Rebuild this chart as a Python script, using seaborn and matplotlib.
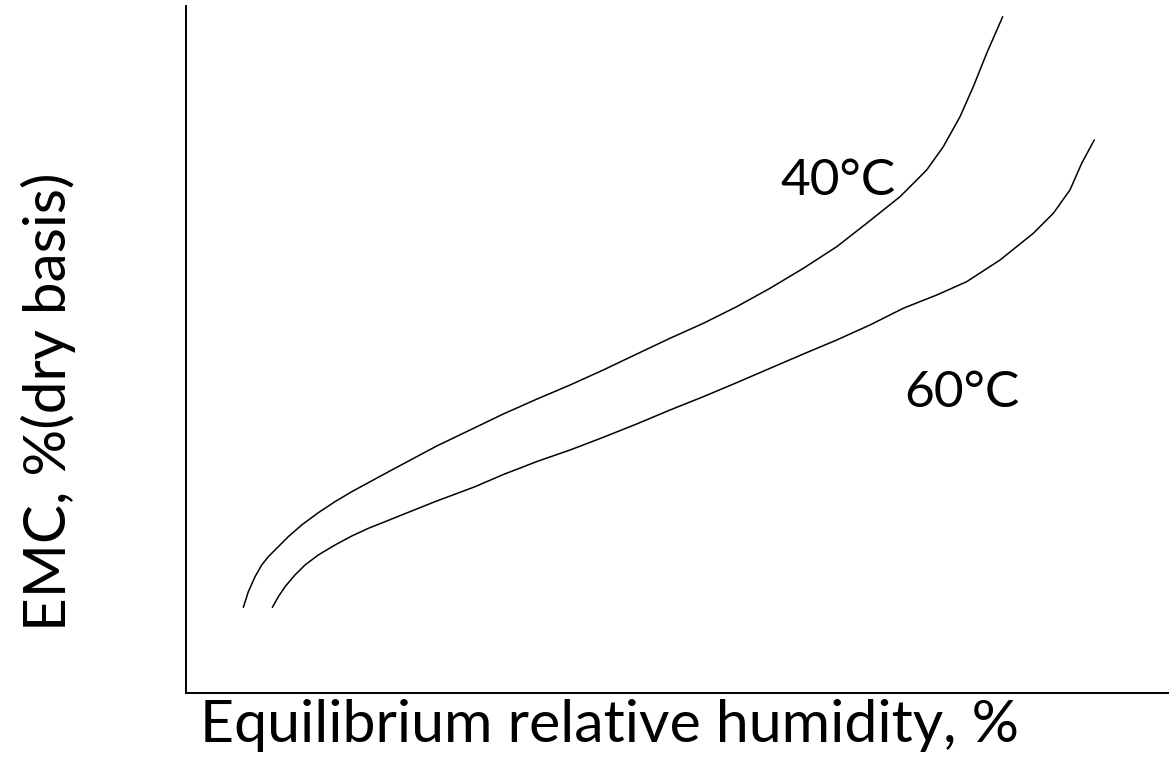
import matplotlib
matplotlib.use("Agg")
import matplotlib.pyplot as plt
import seaborn as sns
import pandas as pd

# Schematic sorption isotherms (arbitrary units)
rh_40 = [5.88, 6.39, 7.07, 7.75, 8.42, 9.44, 10.45, 11.81, 13.50, 15.20, 16.90,
         18.59, 20.97, 25.54, 28.93, 32.31, 35.74, 39.10, 42.48, 45.88, 49.26,
         52.65, 56.04, 59.43, 62.82, 66.21, 69.26, 72.65, 75.36, 77.05, 78.75,
         80.10, 81.46, 83.09]
emc_40 = [12.47, 14.75, 16.93, 18.63, 19.84, 21.30, 22.75, 24.45, 26.24, 27.85,
          29.30, 30.61, 32.46, 35.95, 38.28, 40.61, 42.79, 44.83, 47.02, 49.34,
          51.63, 53.81, 56.23, 58.91, 61.82, 64.96, 68.37, 72.24, 76.13, 79.52,
          83.89, 88.25, 93.11, 98.44]
rh_60 = [8.83, 9.44, 10.12, 11.13, 12.15, 13.50, 15.20, 16.90, 18.59, 20.28,
         21.98, 25.37, 29.44, 32.31, 35.74, 39.10, 42.48, 45.88, 49.26, 52.65,
         56.04, 59.43, 62.82, 66.21, 69.60, 72.98, 76.38, 79.43, 82.82, 86.20,
         88.24, 89.93, 91.12, 92.40]
emc_60 = [12.47, 14.02, 15.47, 17.18, 18.63, 20.09, 21.54, 22.85, 23.97, 24.93,
          25.91, 27.85, 30.03, 31.80, 33.70, 35.37, 37.22, 39.16, 41.19, 43.13,
          45.17, 47.26, 49.34, 51.38, 53.57, 56.00, 57.93, 59.87, 63.03, 66.91,
          69.83, 73.22, 77.10, 80.49]
series_labels = ["40°C", "60°C"]
x_label = "Equilibrium relative humidity, %"
y_label = "EMC, %(dry basis)"

df = pd.DataFrame({
    "rh": rh_40 + rh_60,
    "emc": emc_40 + emc_60,
    "series": [series_labels[0]] * len(rh_40) + [series_labels[1]] * len(rh_60),
})

sns.set_theme(style="white")
plt.rcParams["font.family"] = ["Lato", "DejaVu Sans"]
plt.rcParams["text.color"] = "black"

fig = plt.figure(figsize=(11.69, 7.59), dpi=100)
ax = fig.add_axes([185.5 / 1169, 1 - 693 / 759, 1 - 185.5 / 1169, (693 - 6) / 759])

sns.lineplot(data=df, x="rh", y="emc", hue="series", palette=["black", "black"],
             sort=False, estimator=None, legend=False, linewidth=1.1, ax=ax)
for ln in ax.lines:
    ln.set_solid_joinstyle("round")

ax.set_xlim(0, 100)
ax.set_ylim(0, 100)
ax.set_xticks([])
ax.set_yticks([])
ax.set_xlabel("")
ax.set_ylabel("")
for s in ["top", "right"]:
    ax.spines[s].set_visible(False)
for s in ["left", "bottom"]:
    ax.spines[s].set_color("black")
    ax.spines[s].set_linewidth(1.4)

# series labels
fig.text(780 / 1169, 1 - 195 / 759, series_labels[0], fontsize=37, ha="left",
         va="baseline", color="black")
fig.text(904 / 1169, 1 - 407 / 759, series_labels[1], fontsize=37, ha="left",
         va="baseline", color="black")

# axis labels
fig.text(610 / 1169, 1 - 742 / 759, x_label, fontsize=42.5, ha="center",
         va="baseline", color="black")
fig.text(48 / 1169, 1 - 402 / 759, y_label, fontsize=42, ha="center", va="center",
         rotation=90, color="black")

fig.savefig("out.png", dpi=100, facecolor="white")
